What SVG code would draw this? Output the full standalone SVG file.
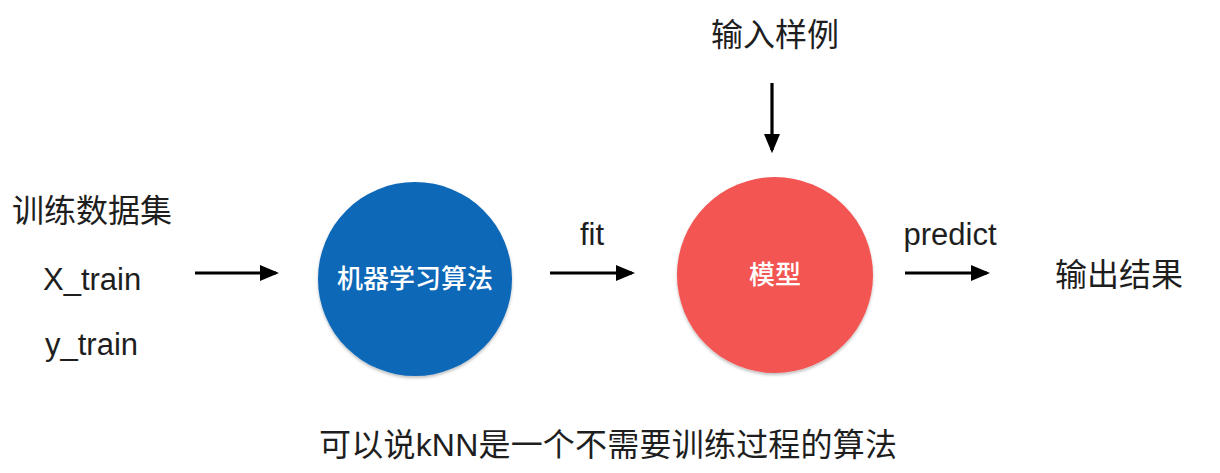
<svg xmlns="http://www.w3.org/2000/svg" width="1220" height="473" viewBox="0 0 1220 473">
<defs>
<style>
.t{font-family:"Liberation Sans","Noto Sans CJK SC",sans-serif;fill:#1e1e1e;}
.cjk{font-size:32px;}
.lat{font-size:31px;}
.in{font-family:"Noto Sans CJK SC",sans-serif;fill:#ffffff;font-size:26px;font-weight:500;}
.conn{stroke:#000;stroke-width:3.2;fill:none;marker-end:url(#ah);}
</style>
<marker id="ah" markerWidth="6" markerHeight="5" refX="5" refY="2.5" orient="auto" markerUnits="strokeWidth">
<path d="M0,0 L6,2.5 L0,5 Z" fill="#000"/>
</marker>
<filter id="sh" x="-10%" y="-10%" width="120%" height="125%">
<feDropShadow dx="0" dy="2" stdDeviation="1.5" flood-color="#000" flood-opacity="0.25"/>
</filter>
</defs>
<rect width="1220" height="473" fill="#ffffff"/>
<g id="train-data">
<text class="t cjk" x="12" y="222">训练数据集</text>
<text class="t lat" x="43" y="290">X_train</text>
<text class="t lat" x="45" y="355">y_train</text>
</g>
<g id="ml-algorithm">
<circle cx="415" cy="279" r="97" fill="#0b67b8" filter="url(#sh)"/>
<text class="in" x="415" y="288" text-anchor="middle">机器学习算法</text>
</g>
<g id="model">
<circle cx="775" cy="275" r="98" fill="#f35452" filter="url(#sh)"/>
<text class="in" x="775" y="284" text-anchor="middle">模型</text>
</g>
<g id="input-sample">
<text class="t cjk" x="775" y="46" text-anchor="middle">输入样例</text>
</g>
<g id="output-result">
<text class="t cjk" x="1055" y="286">输出结果</text>
</g>
<g id="note">
<text class="t cjk" x="608" y="456" text-anchor="middle" textLength="578" lengthAdjust="spacing">可以说kNN是一个不需要训练过程的算法</text>
</g>
<g id="connectors">
<line class="conn" x1="195" y1="273" x2="276" y2="273"/>
<line class="conn" x1="550" y1="273" x2="632" y2="273"/>
<text class="t lat" x="592" y="245" text-anchor="middle">fit</text>
<line class="conn" x1="905" y1="273" x2="987" y2="273"/>
<text class="t lat" x="950" y="245" text-anchor="middle">predict</text>
<line class="conn" x1="772" y1="83" x2="772" y2="150"/>
</g>
</svg>
